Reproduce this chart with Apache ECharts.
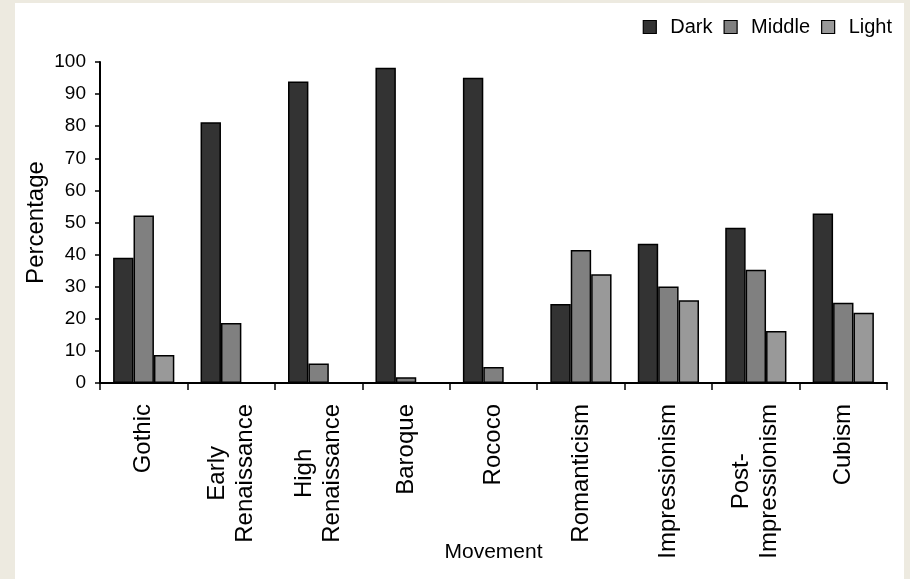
<!DOCTYPE html>
<html>
<head>
<meta charset="utf-8">
<script src="https://cdn.jsdelivr.net/npm/echarts@6/dist/echarts.min.js"></script>
<style>
  html, body { margin: 0; padding: 0; background: #edeae0; }
  #panel { position: absolute; left: 15px; top: 3px; width: 889px; height: 576px; background: #ffffff; }
  #chart { position: absolute; left: 0; top: 0; width: 910px; height: 579px; }
</style>
</head>
<body>
<div id="panel"></div>
<div id="chart"></div>
<script>
// Art movements and the share of dark / middle / light tones in their paintings
const movements = ['Gothic', 'Early\nRenaissance', 'High\nRenaissance', 'Baroque', 'Rococo',
  'Romanticism', 'Impressionism', 'Post-\nImpressionism', 'Cubism'];
const dark   = [39.0, 81.2, 93.9, 98.2, 95.1, 24.6, 43.4, 48.4, 52.8];
const middle = [52.2, 18.7, 6.1, 1.8, 5.0, 41.4, 30.1, 35.3, 25.0];
const light  = [8.7, 0, 0, 0, 0, 33.9, 25.8, 16.2, 21.9];
const seriesNames = ['Dark', 'Middle', 'Light'];
const seriesColors = ['#333333', '#808080', '#999999'];

const FONT = '"Liberation Sans", Arial, sans-serif';
const chart = echarts.init(document.getElementById('chart'), null, { renderer: 'canvas' });

const values = [dark, middle, light];
const series = seriesNames.map((name, i) => ({
  name: name,
  type: 'bar',
  // zero-height bars get no outline so nothing shows above the axis
  data: values[i].map(v => v === 0 ? { value: v, itemStyle: { borderWidth: 0, opacity: 0 } } : v),
  barGap: '0%',
  barCategoryGap: '30%',
  itemStyle: { color: seriesColors[i], borderColor: '#000000', borderWidth: 1.5 }
}));

chart.setOption({
  backgroundColor: 'transparent',
  animation: false,
  textStyle: { fontFamily: FONT, color: '#000' },
  legend: {
    right: 13,
    top: 12,
    icon: 'rect',
    itemWidth: 13,
    itemHeight: 13,
    itemGap: 11,
    itemStyle: { borderColor: '#000', borderWidth: 1.2 },
    textStyle: { fontFamily: FONT, fontSize: 20, color: '#000', padding: [0, 0, 0, 9] },
    data: seriesNames
  },
  grid: { left: 100, right: 23, top: 62, bottom: 196, containLabel: false, outerBoundsMode: 'none' },
  xAxis: {
    type: 'category',
    data: movements,
    name: 'Movement',
    nameLocation: 'middle',
    nameGap: 159,
    nameMoveOverlap: false,
    nameTextStyle: { fontFamily: FONT, fontSize: 21, color: '#000' },
    axisLine: { lineStyle: { color: '#000', width: 2 } },
    axisTick: { show: true, interval: 0, length: 7, lineStyle: { color: '#000', width: 1.5 } },
    axisLabel: {
      interval: 0,
      rotate: 90,
      margin: 21,
      fontFamily: FONT,
      fontSize: 24,
      color: '#000',
      formatter: v => v.split('\n').map(s => '{c|' + s + '}').join('\n'),
      rich: { c: { align: 'center', fontFamily: FONT, fontSize: 24, color: '#000', lineHeight: 28 } }
    }
  },
  yAxis: {
    type: 'value',
    min: 0,
    max: 100,
    interval: 10,
    name: 'Percentage',
    nameLocation: 'middle',
    nameGap: 52,
    nameMoveOverlap: false,
    nameTextStyle: { fontFamily: FONT, fontSize: 24, color: '#000' },
    splitLine: { show: false },
    axisLine: { show: true, lineStyle: { color: '#000', width: 2 } },
    axisTick: { show: true, length: 5, lineStyle: { color: '#000', width: 1.5 } },
    axisLabel: { margin: 14, fontFamily: FONT, fontSize: 19, color: '#000' }
  },
  series: series
});
</script>
</body>
</html>
